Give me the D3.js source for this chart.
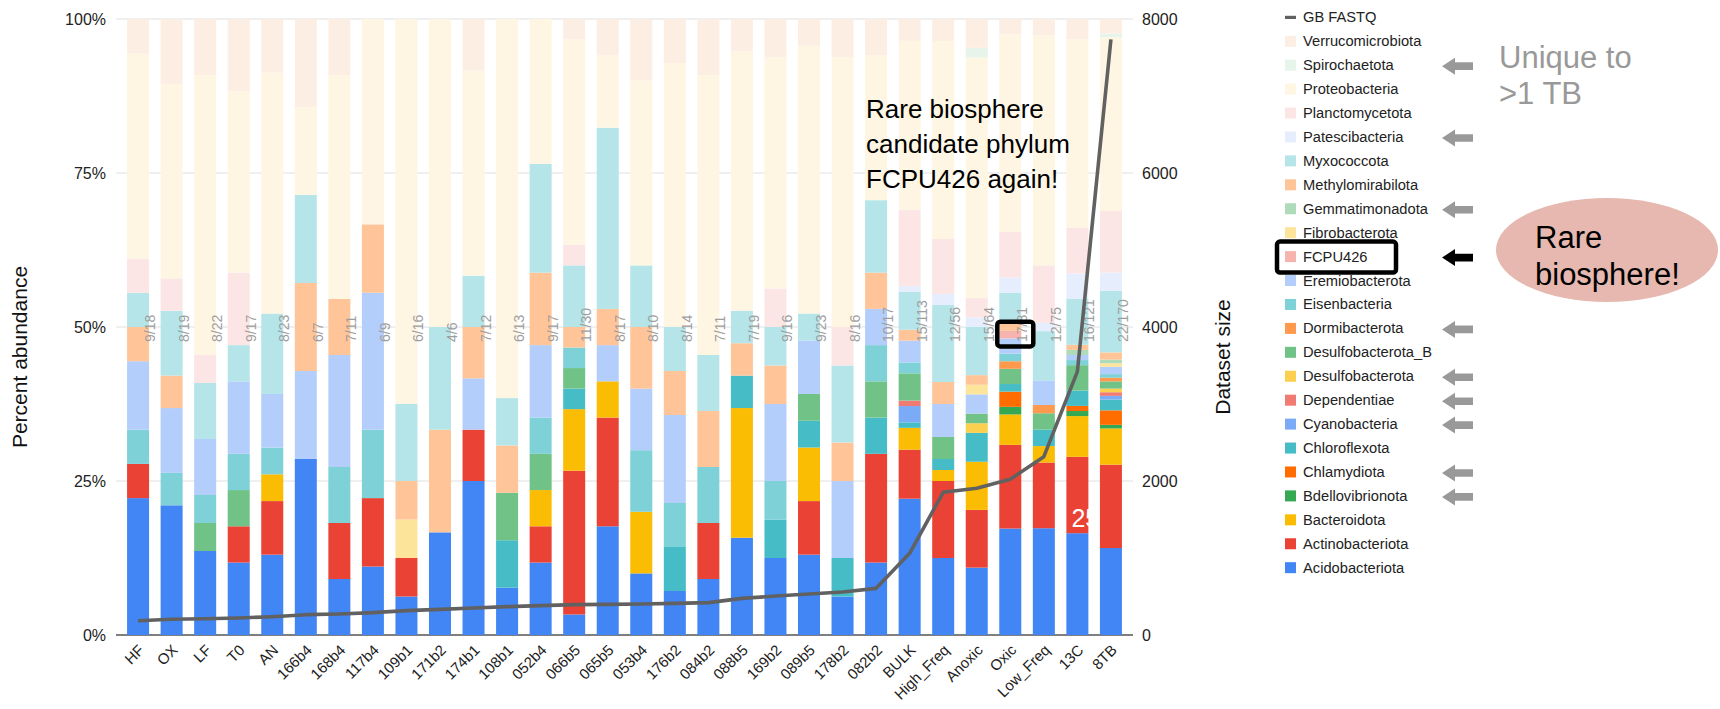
<!DOCTYPE html>
<html>
<head>
<meta charset="utf-8">
<script src="https://cdn.jsdelivr.net/npm/d3@7"></script>
<style>
  body { margin: 0; background: #fff; }
  svg { display: block; font-family: "Liberation Sans", Arial, Helvetica, sans-serif; }
</style>
</head>
<body>
<svg id="chart" width="1720" height="709"></svg>
<script>
// Samples, ordered by sequencing depth
const samples = ["HF","OX","LF","T0","AN","166b4","168b4","117b4","109b1","171b2","174b1","108b1","052b4","066b5","065b5","053b4","176b2","084b2","088b5","169b2","089b5","178b2","082b2","BULK","High_Freq","Anoxic","Oxic","Low_Freq","13C","8TB"];

// Phyla in stacking order (bottom first) and their colours
const phyla = ["Acidobacteriota","Actinobacteriota","Bacteroidota","Bdellovibrionota","Chlamydiota","Chloroflexota","Cyanobacteria","Dependentiae","Desulfobacterota","Desulfobacterota_B","Dormibacterota","Eisenbacteria","Eremiobacterota","FCPU426","Fibrobacterota","Gemmatimonadota","Methylomirabilota","Myxococcota","Patescibacteria","Planctomycetota","Proteobacteria","Spirochaetota","Verrucomicrobiota"];
const phylumColors = ["#4285F4","#EA4335","#FBBC04","#34A853","#FF6D01","#46BDC6","#7BAAF7","#F07B72","#FCD04F","#71C287","#FF994D","#7ED1D7","#B3CEFB","#F7B4AE","#FDE49B","#AEDCBA","#FFC599","#B5E5E8","#E6EEFD","#FBE6E5","#FEF6E3","#E6F4EA","#FDEEE3"];

// Genome counts per phylum, one value per sample
const acidobacteriota    = [4,4,3,2,3,2,1,1,1,1,3,1,2,1,3,1,1,1,3,2,3,1,2,25,7,7,14,13,20,24];
const actinobacteriota   = [1,0,0,1,2,0,1,1,1,0,1,0,1,7,3,0,0,1,0,0,2,0,3,9,7,6,11,8,15,23];
const bacteroidota       = [0,0,0,0,1,0,0,0,0,0,0,0,1,3,1,1,0,0,4,0,2,0,0,4,1,5,4,2,8,10];
const bdellovibrionota   = [0,0,0,0,0,0,0,0,0,0,0,0,0,0,0,0,0,0,0,0,0,0,0,0,0,0,1,0,1,1];
const chlamydiota        = [0,0,0,0,0,0,0,0,0,0,0,0,0,0,0,0,0,0,0,0,0,0,0,0,0,0,2,0,1,4];
const chloroflexota      = [0,0,0,0,0,0,0,0,0,0,0,1,0,1,0,0,1,0,1,1,1,1,1,1,1,3,1,2,3,3];
const cyanobacteria      = [0,0,0,0,0,0,0,0,0,0,0,0,0,0,0,0,0,0,0,0,0,0,0,3,0,0,0,0,0,1];
const dependentiae       = [0,0,0,0,0,0,0,0,0,0,0,0,0,0,0,0,0,0,0,0,0,0,0,1,0,0,0,0,0,1];
const desulfobacterota   = [0,0,0,0,0,0,0,0,0,0,0,0,0,0,0,0,0,0,0,0,0,0,0,0,0,1,0,0,0,1];
const desulfobacterotaB  = [0,0,1,1,0,0,0,0,0,0,0,1,1,1,0,0,0,0,0,0,1,0,1,5,2,1,2,2,5,2];
const dormibacterota     = [0,0,0,0,0,0,0,0,0,0,0,0,0,0,0,0,0,0,0,0,0,0,0,0,0,0,1,1,0,1];
const eisenbacteria      = [1,1,1,1,1,0,1,1,0,0,0,0,1,1,0,1,1,1,0,1,0,0,1,2,0,0,1,0,1,1];
const eremiobacterota    = [2,2,2,2,2,1,2,2,0,0,1,0,2,0,1,1,2,0,0,2,2,2,1,4,3,2,2,3,1,2];
const fcpu426            = [0,0,0,0,0,0,0,0,0,0,0,0,0,0,0,0,0,0,0,0,0,0,0,0,0,0,1,0,0,0];
const fibrobacterota     = [0,0,0,0,0,0,0,0,1,0,0,0,0,0,0,0,0,0,0,0,0,0,0,0,0,1,0,0,0,1];
const gemmatimonadota    = [0,0,0,0,0,0,0,0,0,0,0,0,0,0,0,0,0,0,0,0,0,0,0,0,0,0,0,0,1,1];
const methylomirabilota  = [1,1,0,0,0,1,1,1,1,1,1,1,2,1,1,1,1,1,1,1,0,1,1,2,2,1,1,0,1,2];
const myxococcota        = [1,2,2,1,3,1,0,0,2,1,1,1,3,3,5,1,1,1,1,1,1,2,2,7,7,5,4,6,9,17];
const patescibacteria    = [0,0,0,0,0,0,0,0,0,0,0,0,0,0,0,0,0,0,0,0,0,0,0,1,1,1,2,1,5,5];
const planctomycetota    = [1,1,1,2,0,0,0,0,0,0,0,0,0,1,0,0,0,0,0,1,0,1,0,14,5,2,6,7,9,17];
const proteobacteria     = [6,6,10,5,9,1,4,3,10,3,4,8,4,10,2,3,6,5,8,6,10,7,4,31,18,25,26,28,37,48];
const spirochaetota      = [0,0,0,0,0,0,0,0,0,0,0,0,0,0,0,0,0,0,0,0,0,0,0,0,0,1,0,0,0,1];
const verrucomicrobiota  = [1,2,2,2,2,1,1,0,0,0,1,0,0,1,1,1,1,1,1,1,1,1,1,4,2,3,2,2,4,4];

// Sequencing data per sample (GB of FASTQ)
const gbFastq = [186,204,212,221,238,264,273,290,316,333,351,368,381,394,398,403,411,420,476,506,532,558,606,1061,1853,1905,2022,2316,3420,7736];

const pctTicks = [0,25,50,75,100];
const sizeTicks = [0,2000,4000,6000,8000];

// Phyla found only in the >1 TB datasets, and the rare-biosphere one
const uniqueToLargest = ["Spirochaetota","Patescibacteria","Gemmatimonadota","Dormibacterota","Desulfobacterota","Dependentiae","Cyanobacteria","Chlamydiota","Bdellovibrionota"];
const rarePhylum = "FCPU426";

const counts = [acidobacteriota,actinobacteriota,bacteroidota,bdellovibrionota,chlamydiota,chloroflexota,cyanobacteria,dependentiae,desulfobacterota,desulfobacterotaB,dormibacterota,eisenbacteria,eremiobacterota,fcpu426,fibrobacterota,gemmatimonadota,methylomirabilota,myxococcota,patescibacteria,planctomycetota,proteobacteria,spirochaetota,verrucomicrobiota];

const rows = samples.map((s, i) => {
  const total = d3.sum(counts, c => c[i]);
  const row = { sample: s, total, phylaCount: counts.filter(c => c[i] > 0).length, gb: gbFastq[i] };
  phyla.forEach((p, j) => { row[p] = counts[j][i] / total * 100; });
  return row;
});

const svg = d3.select("#chart");
const plotLeft = 116, plotRight = 1133, plotTop = 19, plotBottom = 635;

const x = d3.scaleBand().domain(samples).range([plotLeft, plotRight]).paddingInner(0.344).paddingOuter(0.33);
const y = d3.scaleLinear().domain([0, 100]).range([plotBottom, plotTop]);
const y2 = d3.scaleLinear().domain([0, 8000]).range([plotBottom, plotTop]);
const color = d3.scaleOrdinal().domain(phyla).range(phylumColors);

// Gridlines
svg.append("g").selectAll("line").data(pctTicks).join("line")
  .attr("x1", plotLeft).attr("x2", plotRight)
  .attr("y1", d => y(d)).attr("y2", d => y(d))
  .attr("stroke", d => d === 0 ? "#555" : "#e0e0e0")
  .attr("stroke-width", d => d === 0 ? 1.3 : 1);

// Left axis
const yAxis = svg.append("g").attr("transform", `translate(${plotLeft - 10},0)`)
  .call(d3.axisLeft(y).tickValues(pctTicks).tickFormat(d => d + "%").tickSize(0).tickPadding(0));
yAxis.select(".domain").remove();
yAxis.selectAll("text").attr("font-size", 16).attr("fill", "#222").attr("font-family", "Liberation Sans, Arial, sans-serif");

// Right axis
const y2Axis = svg.append("g").attr("transform", `translate(${plotRight + 9},0)`)
  .call(d3.axisRight(y2).tickValues(sizeTicks).tickFormat(d3.format("d")).tickSize(0).tickPadding(0));
y2Axis.select(".domain").remove();
y2Axis.selectAll("text").attr("font-size", 16).attr("fill", "#222").attr("font-family", "Liberation Sans, Arial, sans-serif");

// Stacked bars
const series = d3.stack().keys(phyla)(rows);
svg.append("g").selectAll("g").data(series).join("g")
  .attr("fill", d => color(d.key))
  .selectAll("rect").data(d => d).join("rect")
  .attr("x", d => x(d.data.sample))
  .attr("width", x.bandwidth())
  .attr("y", d => y(d[1]))
  .attr("height", d => Math.max(0, y(d[0]) - y(d[1])));

// Phyla / genome count labels
svg.append("g").selectAll("text").data(rows).join("text")
  .attr("transform", d => `translate(${x(d.sample) + x.bandwidth() / 2 + 17},342) rotate(-90)`)
  .attr("font-size", 14).attr("fill", "#9e9e9e")
  .text(d => `${d.phylaCount}/${d.total}`);

// X axis labels
const xAxis = svg.append("g").attr("transform", `translate(0,${plotBottom})`)
  .call(d3.axisBottom(x).tickSize(0).tickPadding(0));
xAxis.select(".domain").remove();
xAxis.selectAll("text")
  .attr("font-size", 15).attr("fill", "#222").attr("font-family", "Liberation Sans, Arial, sans-serif")
  .attr("text-anchor", "end").attr("dy", null).attr("y", 0)
  .attr("transform", "translate(7,16) rotate(-45)");

// Dataset size line
const line = d3.line().x(d => x(d.sample) + x.bandwidth() / 2).y(d => y2(d.gb));
svg.append("path").datum(rows)
  .attr("d", line).attr("fill", "none")
  .attr("stroke", "#616161").attr("stroke-width", 3.6).attr("stroke-linejoin", "round");

// Axis titles
svg.append("text").attr("transform", "translate(19,357) rotate(-90)")
  .attr("text-anchor", "middle").attr("dominant-baseline", "central")
  .attr("font-size", 21).attr("fill", "#111").text("Percent abundance");
svg.append("text").attr("transform", "translate(1222,357) rotate(-90)")
  .attr("text-anchor", "middle").attr("dominant-baseline", "central")
  .attr("font-size", 21).attr("fill", "#111").text("Dataset size");

// Legend
const legendItems = ["GB FASTQ"].concat(phyla.slice().reverse());
const legendY = i => 17.3 + i * 23.93;
const legend = svg.append("g");
legendItems.forEach((name, i) => {
  const cy = legendY(i);
  if (name === "GB FASTQ") {
    legend.append("rect").attr("x", 1285).attr("y", cy - 1.5).attr("width", 11).attr("height", 3.2).attr("fill", "#616161");
  } else {
    legend.append("rect").attr("x", 1285).attr("y", cy - 5.5).attr("width", 11).attr("height", 11).attr("fill", color(name));
  }
  legend.append("text").attr("x", 1303).attr("y", cy).attr("dominant-baseline", "central")
    .attr("font-size", 14.7).attr("fill", "#222").text(name);
  if (uniqueToLargest.includes(name) || name === rarePhylum) {
    const ay = cy + 1;
    legend.append("path")
      .attr("d", `M1442,${ay} L1455,${ay - 8.5} L1455,${ay - 3.8} L1473,${ay - 3.8} L1473,${ay + 3.8} L1455,${ay + 3.8} L1455,${ay + 8.5} Z`)
      .attr("fill", name === rarePhylum ? "#000" : "#999");
  }
});
// Box around the rare phylum in the legend
const rareRow = legendY(legendItems.indexOf(rarePhylum));
legend.append("rect").attr("x", 1277).attr("y", rareRow - 15).attr("width", 119).attr("height", 31)
  .attr("rx", 3).attr("fill", "none").attr("stroke", "#000").attr("stroke-width", 4.5);

// Notes
svg.append("text").attr("x", 1499).attr("font-size", 31).attr("fill", "#999")
  .selectAll("tspan").data(["Unique to", ">1 TB"]).join("tspan")
  .attr("x", 1499).attr("y", (d, i) => 68 + i * 35.5).text(d => d);

svg.append("ellipse").attr("cx", 1607).attr("cy", 250).attr("rx", 111).attr("ry", 52).attr("fill", "#E6B8AF");
svg.append("text").attr("font-size", 31).attr("fill", "#000")
  .selectAll("tspan").data(["Rare", "biosphere!"]).join("tspan")
  .attr("x", 1535).attr("y", (d, i) => 248 + i * 37).text(d => d);

svg.append("text").attr("font-size", 26).attr("fill", "#000")
  .selectAll("tspan").data(["Rare biosphere", "candidate phylum", "FCPU426 again!"]).join("tspan")
  .attr("x", 866).attr("y", (d, i) => 118 + i * 35).text(d => d);

// Highlight the FCPU426 segment in the Oxic bar
const oxic = series[phyla.indexOf(rarePhylum)][samples.indexOf("Oxic")];
const ox0 = x("Oxic");
svg.append("rect")
  .attr("x", ox0 - 2).attr("y", y(oxic[1]) - 9)
  .attr("width", x.bandwidth() + 14).attr("height", y(oxic[0]) - y(oxic[1]) + 17)
  .attr("rx", 3).attr("fill", "none").attr("stroke", "#000").attr("stroke-width", 4.5);

// Stray white label on the 13C bar
svg.append("text").attr("x", x("13C") + 5).attr("y", 527).attr("font-size", 25).attr("fill", "#fff").text("25");
</script>
</body>
</html>
